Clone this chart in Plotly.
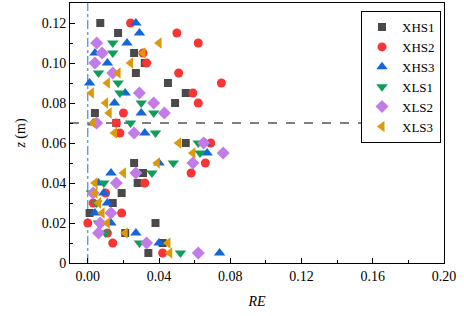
import plotly.graph_objects as go

names = ["XHS1", "XHS2", "XHS3", "XLS1", "XLS2", "XLS3"]

xhs1_z = [0.12, 0.115, 0.105, 0.10, 0.095, 0.09, 0.085, 0.08, 0.075, 0.07, 0.06, 0.05, 0.045, 0.04, 0.035, 0.03, 0.025, 0.02, 0.015, 0.01, 0.005]
xhs1_re = [0.007, 0.017, 0.026, 0.032, 0.027, 0.045, 0.055, 0.049, 0.004, 0.016, 0.055, 0.026, 0.031, 0.028, 0.019, 0.014, 0.001, 0.038, 0.021, 0.042, 0.034]

xhs2_z = [0.12, 0.115, 0.11, 0.105, 0.10, 0.095, 0.09, 0.085, 0.08, 0.075, 0.07, 0.065, 0.06, 0.05, 0.045, 0.04, 0.035, 0.03, 0.025, 0.02, 0.015, 0.01, 0.005]
xhs2_re = [0.024, 0.050, 0.062, 0.031, 0.033, 0.051, 0.075, 0.059, 0.062, 0.020, 0.016, 0.018, 0.069, 0.066, 0.058, 0.032, 0.010, 0.003, 0.019, 0.000, 0.011, 0.014, 0.042]

xhs3_z = [0.12, 0.115, 0.11, 0.105, 0.10, 0.09, 0.085, 0.08, 0.075, 0.07, 0.065, 0.06, 0.055, 0.05, 0.045, 0.04, 0.035, 0.03, 0.025, 0.02, 0.015, 0.01, 0.005]
xhs3_re = [0.027, 0.029, 0.022, 0.004, 0.011, 0.001, 0.021, 0.015, 0.030, 0.003, 0.032, 0.066, 0.067, 0.040, 0.013, 0.006, 0.009, 0.011, 0.004, 0.013, 0.027, 0.040, 0.074]

xls1_z = [0.11, 0.105, 0.095, 0.09, 0.085, 0.08, 0.075, 0.07, 0.065, 0.06, 0.055, 0.05, 0.045, 0.04, 0.035, 0.03, 0.02, 0.015, 0.01, 0.005]
xls1_re = [0.014, 0.014, 0.006, 0.017, 0.018, 0.030, 0.037, 0.024, 0.038, 0.062, 0.063, 0.048, 0.036, 0.009, 0.002, 0.005, 0.006, 0.010, 0.029, 0.052]

xls2_z = [0.11, 0.105, 0.10, 0.095, 0.085, 0.08, 0.075, 0.07, 0.065, 0.06, 0.055, 0.05, 0.045, 0.04, 0.035, 0.025, 0.02, 0.015, 0.01, 0.005]
xls2_re = [0.005, 0.008, 0.004, 0.014, 0.029, 0.037, 0.043, 0.005, 0.026, 0.065, 0.076, 0.059, 0.027, 0.016, 0.003, 0.013, 0.007, 0.006, 0.033, 0.062]

xls3_z = [0.11, 0.105, 0.10, 0.095, 0.09, 0.085, 0.08, 0.075, 0.07, 0.065, 0.06, 0.055, 0.05, 0.045, 0.04, 0.035, 0.03, 0.025, 0.02, 0.015, 0.01, 0.005]
xls3_re = [0.040, 0.031, 0.024, 0.017, 0.011, 0.002, 0.010, 0.012, 0.003, 0.015, 0.051, 0.059, 0.039, 0.020, 0.004, 0.004, 0.006, 0.008, 0.011, 0.021, 0.045, 0.046]

x_ticks = [0.0, 0.04, 0.08, 0.12, 0.16, 0.20]
x_ticktext = ["0.00", "0.04", "0.08", "0.12", "0.16", "0.20"]
y_ticks = [0.0, 0.02, 0.04, 0.06, 0.08, 0.10, 0.12]
y_ticktext = ["0", "0.02", "0.04", "0.06", "0.08", "0.10", "0.12"]
threshold_z = 0.07

series = [
    (names[0], xhs1_re, xhs1_z, "square", "#4a4a4a", 8),
    (names[1], xhs2_re, xhs2_z, "circle", "#f83434", 9),
    (names[2], xhs3_re, xhs3_z, "triangle-up", "#1566d8", 10),
    (names[3], xls1_re, xls1_z, "triangle-down", "#0f9d58", 10),
    (names[4], xls2_re, xls2_z, "diamond", "#c27be8", 10),
    (names[5], xls3_re, xls3_z, "triangle-left", "#dc9a0a", 10),
]

fig = go.Figure()
for name, xs, ys, sym, col, sz in series:
    fig.add_trace(go.Scatter(
        x=xs, y=ys, mode="markers", name=name,
        marker=dict(symbol=sym, color=col, size=sz, line=dict(width=0)),
    ))

fig.add_shape(type="line", xref="x", yref="paper", x0=0, x1=0, y0=0, y1=1,
              line=dict(color="#1a73e8", width=1, dash="dashdot"), layer="below")
fig.add_shape(type="line", xref="paper", yref="y", x0=0, x1=1, y0=threshold_z, y1=threshold_z,
              line=dict(color="#555555", width=1.5, dash="dash"), layer="below")

font = "Liberation Serif"
axis_common = dict(
    showline=True, linecolor="black", linewidth=1, mirror=True,
    ticks="inside", ticklen=5, tickcolor="black", showgrid=False, zeroline=False,
    tickfont=dict(family=font, size=14, color="black"),
)

fig.update_xaxes(
    range=[-0.01, 0.20], tickvals=x_ticks, ticktext=x_ticktext,
    minor=dict(ticks="inside", ticklen=3, dtick=0.02, tick0=0, tickcolor="black"),
    title=dict(text="<i>RE</i>", font=dict(family=font, size=14, color="black"), standoff=13),
    **axis_common,
)
fig.update_yaxes(
    range=[0, 0.13], tickvals=y_ticks, ticktext=y_ticktext,
    minor=dict(ticks="inside", ticklen=3, dtick=0.01, tick0=0, tickcolor="black"),
    title=dict(text="<i>z</i> (m)", font=dict(family=font, size=14, color="black"), standoff=12),
    **axis_common,
)

fig.update_layout(
    width=464, height=316,
    margin=dict(l=70, r=20, t=3, b=53),
    paper_bgcolor="white", plot_bgcolor="white",
    font=dict(family=font, size=14, color="black"),
    showlegend=True,
    legend=dict(
        x=0.992, y=0.969, xanchor="right", yanchor="top",
        bgcolor="white", bordercolor="black", borderwidth=1,
        font=dict(family=font, size=13, color="black"),
        tracegroupgap=0, itemwidth=30,
    ),
)

fig.write_html("out.html", config={"displayModeBar": False},
               post_script="document.body.style.margin='0px';")
